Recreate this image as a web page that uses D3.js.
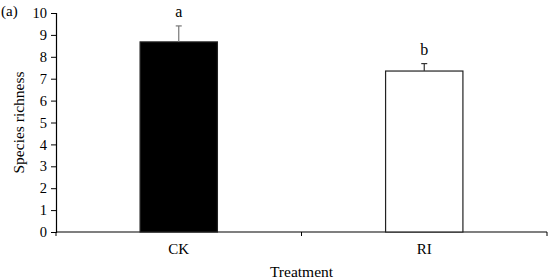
<!DOCTYPE html>
<html><head><meta charset="utf-8">
<script src="https://cdn.jsdelivr.net/npm/d3@7"></script>
<style>body{margin:0;background:#fff}svg{display:block}text{font-family:"Liberation Serif","Times New Roman",serif}</style>
</head><body>
<svg id="c" width="550" height="280"></svg>
<script>
const categories = ["CK", "RI"];
const values = [8.68, 7.35];
const errors = [0.73, 0.34];
const letters = ["a", "b"];
const fills = ["#000000", "#ffffff"];
const yTicks = [0,1,2,3,4,5,6,7,8,9,10];

const svg = d3.select("#c");
const m = {l:56, r:3, t:13, b:48};
const W = 550, H = 280;
const x = d3.scaleBand().domain(categories).range([m.l, W - m.r]).paddingInner(0.685).paddingOuter(0.3425);
const y = d3.scaleLinear().domain([0, 10]).range([H - m.b, m.t]);

// y axis
const ya = svg.append("g").attr("transform", `translate(${m.l},0)`)
  .call(d3.axisLeft(y).tickValues(yTicks).tickSize(5).tickPadding(4).tickFormat(d3.format("d")));
ya.select(".domain").attr("stroke", "#000").attr("stroke-width", 1.2);
ya.selectAll("line").attr("stroke", "#000");
ya.selectAll("text").attr("font-size", 14.5).attr("fill", "#000").style("font-family", "'Liberation Serif',serif");

// x axis
const x0 = m.l, x1 = W - m.r;
const boundaries = [x0, (x0 + x1) / 2, x1];
const xa = svg.append("g");
xa.append("line").attr("x1", x0).attr("x2", x1).attr("y1", y(0)).attr("y2", y(0)).attr("stroke", "#000").attr("stroke-width", 1.2);
xa.selectAll(".bt").data(boundaries).enter().append("line")
  .attr("x1", d => d).attr("x2", d => d).attr("y1", y(0)).attr("y2", y(0) + 4).attr("stroke", "#000");
xa.selectAll(".cl").data(categories).enter().append("text")
  .attr("x", d => x(d) + x.bandwidth() / 2).attr("y", y(0) + 22)
  .attr("text-anchor", "middle").attr("font-size", 15).text(d => d);

// bars
svg.selectAll(".bar").data(categories).enter().append("rect")
  .attr("x", d => x(d)).attr("width", x.bandwidth())
  .attr("y", (d, i) => y(values[i])).attr("height", (d, i) => y(0) - y(values[i]))
  .attr("fill", (d, i) => fills[i]).attr("stroke", "#222").attr("stroke-width", 1.2);

// error bars
const eb = svg.selectAll(".eb").data(categories).enter().append("g");
eb.append("line").attr("x1", d => x(d) + x.bandwidth() / 2).attr("x2", d => x(d) + x.bandwidth() / 2)
  .attr("y1", (d, i) => y(values[i])).attr("y2", (d, i) => y(values[i] + errors[i]))
  .attr("stroke", (d, i) => i === 0 ? "#777" : "#333").attr("stroke-width", 1.2);
eb.append("line").attr("x1", d => x(d) + x.bandwidth() / 2 - 3).attr("x2", d => x(d) + x.bandwidth() / 2 + 3)
  .attr("y1", (d, i) => y(values[i] + errors[i])).attr("y2", (d, i) => y(values[i] + errors[i]))
  .attr("stroke", (d, i) => i === 0 ? "#777" : "#333").attr("stroke-width", 1.2);

// letters
svg.selectAll(".lt").data(categories).enter().append("text")
  .attr("x", d => x(d) + x.bandwidth() / 2).attr("y", (d, i) => y(values[i] + errors[i]) - 9)
  .attr("text-anchor", "middle").attr("font-size", 16).text((d, i) => letters[i]);

// titles
svg.append("text").attr("x", 1).attr("y", 16).attr("font-size", 15).text("(a)");
svg.append("text").attr("transform", `translate(24,${(y(0) + y(10)) / 2}) rotate(-90)`)
  .attr("text-anchor", "middle").attr("font-size", 15.5).text("Species richness");
svg.append("text").attr("x", (x0 + x1) / 2).attr("y", 277).attr("text-anchor", "middle").attr("font-size", 15.5).text("Treatment");
</script>
</body></html>
